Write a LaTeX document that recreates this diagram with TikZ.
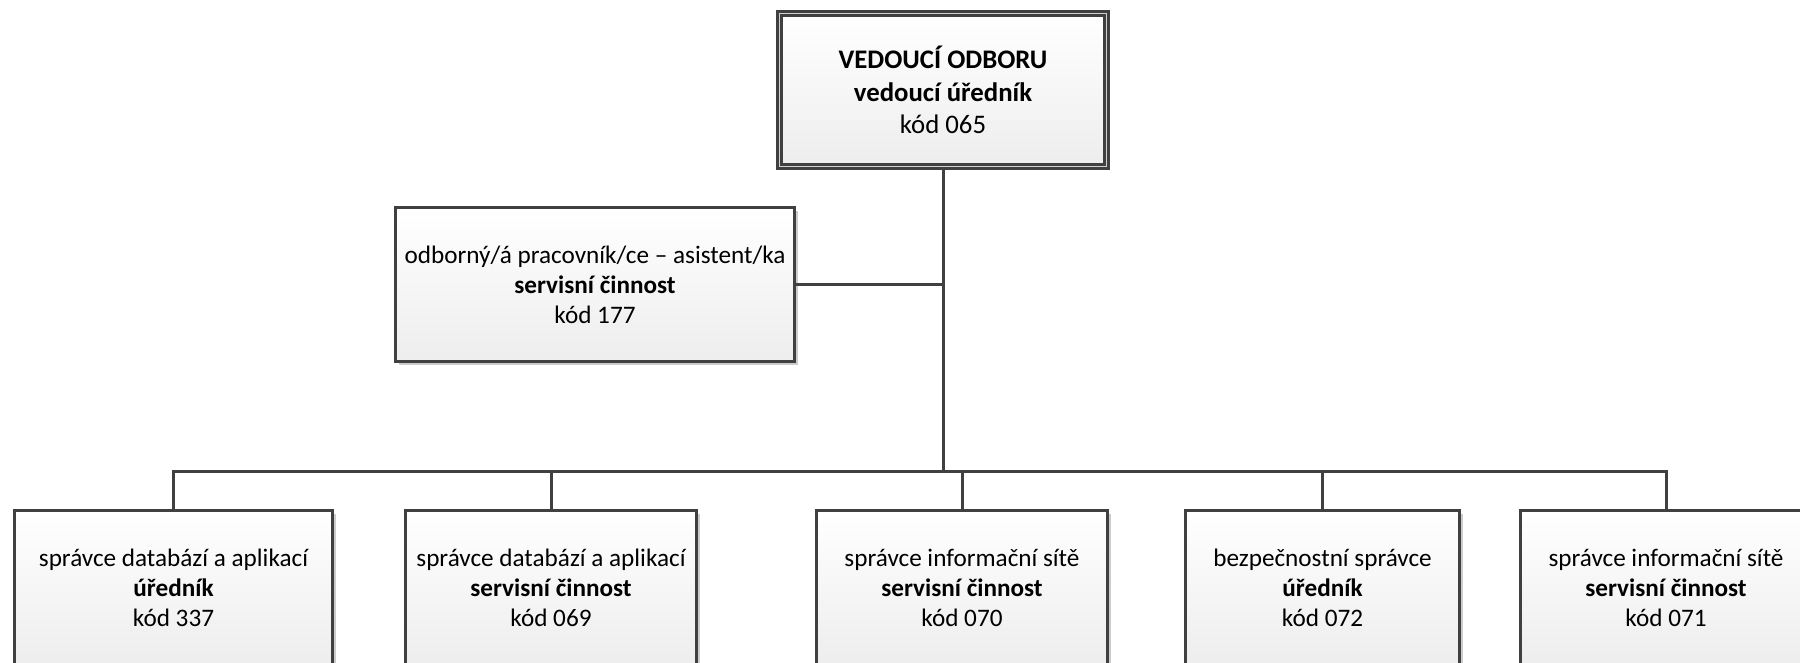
\documentclass[tikz,border=0pt]{standalone}
\usepackage{fontspec}
\setmainfont{Carlito}
\usetikzlibrary{shadows}
\definecolor{linegray}{HTML}{404040}
\tikzset{
  box/.style={draw=linegray, line width=1.5pt, top color=white, bottom color=black!7,
    drop shadow={shadow xshift=1.5pt, shadow yshift=-1.5pt, fill=black!20, opacity=1},
    align=center, inner sep=0pt, font=\fontsize{12.6}{15}\selectfont},
  headbox/.style={box, line width=1.3pt, double=black!18, double distance=0.8pt,
    font=\fontsize{13.4}{16.3}\selectfont},
  conn/.style={draw=linegray, line width=1.5pt}
}

\begin{document}
\begin{tikzpicture}[x=0.5pt,y=-0.5pt]
      \useasboundingbox (0,0) rectangle (1800,663);
      \clip (0,0) rectangle (1800,663);
      \node[headbox, minimum width=163.5pt, minimum height=76.5pt] (top) at (943,90)
	{\textbf{VEDOUCÍ ODBORU}\\\textbf{vedoucí úředník}\\kód 065};
      \node[box, minimum width=199.5pt, minimum height=77pt] (asst) at (595,285)
	{odborný/á pracovník/ce – asistent/ka\\\textbf{servisní činnost}\\kód 177};
      \node[box, minimum width=159pt, minimum height=77.5pt] (b1) at (173.5,588)
	{správce databází a aplikací\\\textbf{úředník}\\kód 337};
      \node[box, minimum width=145.5pt, minimum height=77.5pt] (b2) at (551,588)
	{správce databází a aplikací\\\textbf{servisní činnost}\\kód 069};
      \node[box, minimum width=145.5pt, minimum height=77.5pt] (b3) at (962,588)
	{správce informační sítě\\\textbf{servisní činnost}\\kód 070};
      \node[box, minimum width=137pt, minimum height=77.5pt] (b4) at (1322.5,588)
	{bezpečnostní správce\\\textbf{úředník}\\kód 072};
      \node[box, minimum width=145.5pt, minimum height=77.5pt] (b5) at (1666,588)
	{správce informační sítě\\\textbf{servisní činnost}\\kód 071};
      \coordinate (j) at (943,285);
      \coordinate (bus) at (943,471);
      \draw[conn] (top.south) -- (bus);
      \draw[conn] (asst.east) -- (j);
      \foreach \i in {1,...,5} {
	\draw[conn] (b\i.north) |- (bus);
      };
    \end{tikzpicture}
\end{document}
